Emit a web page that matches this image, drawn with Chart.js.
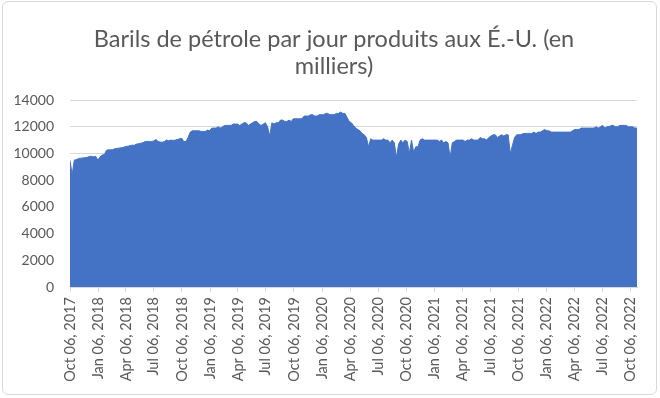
<!DOCTYPE html>
<html>
<head>
<meta charset="utf-8">
<script src="https://cdn.jsdelivr.net/npm/chart.js@4/dist/chart.umd.min.js"></script>
<style>
  html, body { margin: 0; padding: 0; background: #ffffff; }
  #wrap { position: relative; width: 660px; height: 398px; }
  #frame { position: absolute; left: 2px; top: 1px; width: 653px; height: 392px; border: 1px solid #d9d9d9; border-radius: 6px; pointer-events: none; }
  canvas { display: block; }
</style>
</head>
<body>
<div id="wrap">
  <canvas id="c" width="660" height="398"></canvas>
  <div id="frame"></div>
</div>
<script>
// ---- Data (weekly, starting Oct 06, 2017; thousands of barrels per day) ----
const chartTitle = ['Barils de pétrole par jour produits aux É.-U. (en', 'milliers)'];
const startDate = 'Oct 06, 2017';
const weeklyProduction2017 = [9480, 8400, 9500, 9550, 9620, 9650, 9660, 9680, 9710, 9780, 9790, 9750, 9780];
const weeklyProduction2018 = [9490, 9750, 9880, 9920, 10250, 10270, 10270, 10280, 10370, 10380, 10410, 10430, 10460,
  10530, 10540, 10590, 10620, 10620, 10700, 10730, 10770, 10800, 10900, 10900, 10900, 10900,
  10940, 11050, 10900, 10850, 10840, 10900, 11010, 10950, 11000, 10980, 11000, 11050, 11100,
  11140, 10900, 10900, 11200, 11600, 11700, 11700, 11700, 11700, 11650, 11650, 11650, 11750];
const weeklyProduction2019 = [11700, 11900, 11900, 11900, 12000, 11900, 12000, 12100, 12100, 12100, 12100, 12200, 12200,
  12200, 12100, 12200, 12300, 12300, 12100, 12200, 12300, 12400, 12400, 12200, 12100, 12200,
  12300, 12000, 11300, 12300, 12200, 12300, 12300, 12500, 12500, 12400, 12400, 12500, 12400,
  12600, 12600, 12600, 12600, 12600, 12800, 12800, 12800, 12900, 12900, 12800, 12800, 12900, 12900];
const weeklyProduction2020 = [12900, 13000, 13000, 12900, 12900, 12900, 13000, 13000, 13100, 13000, 13000, 12700, 12400,
  12300, 12100, 11900, 11800, 11700, 11500, 11400, 11200, 10500, 11100, 11000, 11000, 11000,
  11000, 11000, 11100, 11000, 11000, 10800, 11000, 10800, 9700, 10700, 11000, 10800, 11000,
  10900, 10000, 11000, 10100, 10500, 10500, 11000, 11100, 11000, 11000, 11000, 11000, 11000];
const weeklyProduction2021 = [11000, 11000, 10900, 11000, 10800, 10900, 10800, 9700, 10800, 10900, 11000, 11000, 11000,
  11000, 10900, 11000, 11000, 11100, 11000, 11000, 11000, 11200, 11100, 11100, 11000, 11200,
  11300, 11400, 11400, 11200, 11300, 11400, 11300, 11400, 11400, 10000, 10600, 11200, 11400,
  11400, 11400, 11500, 11500, 11500, 11500, 11500, 11600, 11500, 11600, 11600, 11700, 11800];
const weeklyProduction2022 = [11700, 11700, 11600, 11600, 11600, 11600, 11600, 11600, 11600, 11600, 11600, 11600, 11700,
  11800, 11800, 11800, 11900, 11900, 11900, 11900, 11900, 11900, 11900, 12000, 11900, 12000,
  12100, 11900, 12000, 12000, 12100, 12100, 12000, 12000, 12100, 12100, 12100, 12100, 12000,
  12000, 12000, 11900, 11900];
const weeklyProduction = [].concat(weeklyProduction2017, weeklyProduction2018, weeklyProduction2019,
  weeklyProduction2020, weeklyProduction2021, weeklyProduction2022);
const tickLabels = ['Oct 06, 2017', 'Jan 06, 2018', 'Apr 06, 2018', 'Jul 06, 2018', 'Oct 06, 2018',
  'Jan 06, 2019', 'Apr 06, 2019', 'Jul 06, 2019', 'Oct 06, 2019', 'Jan 06, 2020', 'Apr 06, 2020',
  'Jul 06, 2020', 'Oct 06, 2020', 'Jan 06, 2021', 'Apr 06, 2021', 'Jul 06, 2021', 'Oct 06, 2021',
  'Jan 06, 2022', 'Apr 06, 2022', 'Jul 06, 2022', 'Oct 06, 2022'];
const yTicks = [0, 2000, 4000, 6000, 8000, 10000, 12000, 14000];

// ---- Build ----
const DAY = 86400000;
const dayOffset = s => Math.round((Date.parse(s) - Date.parse(startDate)) / DAY);
const points = weeklyProduction.map((v, i) => ({ x: i * 7, y: v }));
const tickDays = tickLabels.map(dayOffset);
const textColor = '#595959';
const fontFamily = 'Lato, "Open Sans", "Liberation Sans", sans-serif';

// Centre the title over the framed chart (not just the plot box)
const titleSpan = {
  id: 'titleSpan',
  afterLayout(chart) {
    const t = chart.titleBlock;
    if (t) { t.left = 31; t.width = t.right - t.left; }
  }
};

new Chart(document.getElementById('c'), {
  type: 'line',
  plugins: [titleSpan],
  data: {
    datasets: [{
      data: points,
      fill: 'origin',
      backgroundColor: '#4472C4',
      borderColor: '#4472C4',
      borderWidth: 1,
      pointRadius: 0,
      tension: 0
    }]
  },
  options: {
    responsive: false,
    animation: false,
    devicePixelRatio: 1,
    events: [],
    layout: { padding: { left: 0, right: 23, top: 0, bottom: 0 } },
    plugins: {
      legend: { display: false },
      tooltip: { enabled: false },
      title: {
        display: true,
        text: chartTitle,
        color: textColor,
        font: { family: fontFamily, size: 23.5, weight: 'normal', lineHeight: 1.15 },
        padding: { top: 26, bottom: 20 }
      }
    },
    scales: {
      x: {
        type: 'linear',
        min: 0,
        max: (weeklyProduction.length - 1) * 7,
        afterBuildTicks: scale => { scale.ticks = tickDays.map(v => ({ value: v })); },
        afterFit: scale => { scale.height = 111; },
        grid: { drawOnChartArea: false, drawTicks: true, tickLength: 5, color: '#d9d9d9' },
        border: { display: true, color: '#d9d9d9' },
        ticks: {
          autoSkip: false,
          minRotation: 90,
          maxRotation: 90,
          padding: 5,
          color: textColor,
          font: { family: fontFamily, size: 14.5 },
          callback: (value, index) => tickLabels[index]
        }
      },
      y: {
        min: 0,
        max: 14000,
        afterBuildTicks: scale => { scale.ticks = yTicks.map(v => ({ value: v })); },
        afterFit: scale => { scale.width = 70; },
        grid: { color: '#d9d9d9', drawTicks: false },
        border: { display: false },
        ticks: {
          padding: 16,
          color: textColor,
          font: { family: fontFamily, size: 14 },
          callback: v => String(v)
        }
      }
    }
  }
});
</script>
</body>
</html>
